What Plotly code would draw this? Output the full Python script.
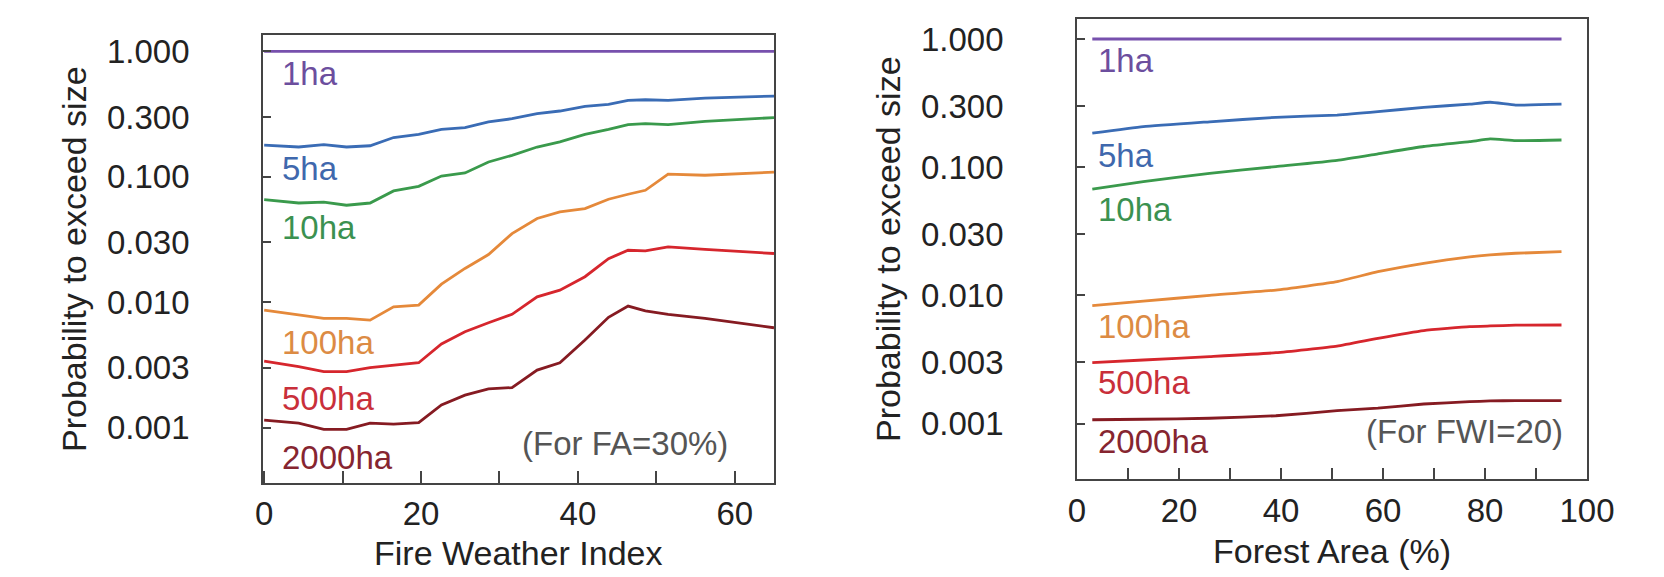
import plotly.graph_objects as go

# ---------------- data ----------------
size_labels = ["1ha", "5ha", "10ha", "100ha", "500ha", "2000ha"]

fwi = [0, 4.4, 7.6, 10.5, 13.5, 16.5, 19.7, 22.6, 25.6, 28.6, 31.6, 34.8,
       37.7, 40.9, 43.9, 46.4, 48.6, 51.5, 56.2, 65]
fwi_1ha = [1.0, 1.0, 1.0, 1.0, 1.0, 1.0, 1.0, 1.0, 1.0, 1.0, 1.0, 1.0,
           1.0, 1.0, 1.0, 1.0, 1.0, 1.0, 1.0, 1.0]
fwi_5ha = [0.179, 0.173, 0.181, 0.173, 0.177, 0.206, 0.218, 0.239, 0.247, 0.274,
           0.291, 0.319, 0.335, 0.365, 0.379, 0.407, 0.412, 0.407, 0.425, 0.441]
fwi_10ha = [0.0659, 0.0619, 0.0628, 0.0594, 0.0619, 0.0773, 0.0841, 0.1016, 0.1074,
            0.1315, 0.1486, 0.173, 0.190, 0.218, 0.239, 0.261, 0.266, 0.261, 0.277, 0.297]
fwi_100ha = [0.00867, 0.00791, 0.00744, 0.00744, 0.00721, 0.00921, 0.00951, 0.01396,
             0.01862, 0.02404, 0.0353, 0.0466, 0.0526, 0.0559, 0.0663, 0.0727, 0.0782,
             0.105, 0.103, 0.109]
fwi_500ha = [0.00340, 0.00307, 0.00280, 0.00280, 0.00301, 0.00316, 0.00330, 0.00465,
             0.00582, 0.00687, 0.00802, 0.01106, 0.0125, 0.0160, 0.0223, 0.0260, 0.0257,
             0.0277, 0.0264, 0.0245]
fwi_2000ha = [0.00115, 0.00109, 0.00097, 0.00097, 0.00109, 0.00107, 0.00110, 0.00152,
              0.00182, 0.00204, 0.00209, 0.00288, 0.00330, 0.00500, 0.00759, 0.00933,
              0.00855, 0.00802, 0.00744, 0.00627]

fa = [3, 13, 26, 39, 51, 59, 68, 77, 81, 86, 95]
fa_1ha = [1.0, 1.0, 1.0, 1.0, 1.0, 1.0, 1.0, 1.0, 1.0, 1.0, 1.0]
fa_5ha = [0.184, 0.207, 0.226, 0.245, 0.255, 0.271, 0.293, 0.310, 0.321, 0.305, 0.310]
fa_10ha = [0.0673, 0.0771, 0.0895, 0.101, 0.113, 0.127, 0.145, 0.158, 0.166, 0.161, 0.163]
fa_100ha = [0.0083, 0.0090, 0.0100, 0.0110, 0.0128, 0.0153, 0.0178, 0.0200, 0.0207, 0.0213, 0.0219]
fa_500ha = [0.00299, 0.00313, 0.00333, 0.00357, 0.00402, 0.00462, 0.00531, 0.00570,
            0.00577, 0.00585, 0.00587]
fa_2000ha = [0.00107, 0.00108, 0.00110, 0.00115, 0.00126, 0.00132, 0.00142, 0.00148,
             0.00150, 0.00151, 0.00151]

y_tickvals = [1.0, 0.3, 0.1, 0.03, 0.01, 0.003, 0.001]
y_ticktext = ["1.000", "0.300", "0.100", "0.030", "0.010", "0.003", "0.001"]
fwi_tickvals = [0, 10, 20, 30, 40, 50, 60]
fwi_ticktext = ["0", "", "20", "", "40", "", "60"]
fa_tickvals = [0, 10, 20, 30, 40, 50, 60, 70, 80, 90, 100]
fa_ticktext = ["0", "", "20", "", "40", "", "60", "", "80", "", "100"]

# ---------------- style ----------------
line_colors = ["#7750ad", "#3a6cb5", "#3a9a4c", "#e5893a", "#d6262d", "#861b22"]
text_colors = ["#6c4e9e", "#3f68ad", "#3b9150", "#dc8b44", "#c92f3a", "#862530"]
FONT = "Liberation Sans, Arial, Helvetica, sans-serif"

left_series = [fwi_1ha, fwi_5ha, fwi_10ha, fwi_100ha, fwi_500ha, fwi_2000ha]
right_series = [fa_1ha, fa_5ha, fa_10ha, fa_100ha, fa_500ha, fa_2000ha]

# label positions (log10 y, x in data units)
left_label_x = 2.0
left_label_logy = [-0.175, -0.932, -1.401, -2.317, -2.763, -3.240]
right_label_x = 3.8
right_label_logy = [-0.164, -0.905, -1.334, -2.244, -2.683, -3.141]

fig = go.Figure()

for i, ys in enumerate(left_series):
    fig.add_trace(go.Scatter(x=fwi, y=ys, mode="lines", xaxis="x", yaxis="y",
                             line=dict(color=line_colors[i], width=2.8),
                             showlegend=False, hoverinfo="skip"))
for i, ys in enumerate(right_series):
    fig.add_trace(go.Scatter(x=fa, y=ys, mode="lines", xaxis="x2", yaxis="y2",
                             line=dict(color=line_colors[i], width=2.8, shape="spline",
                                       smoothing=0.4),
                             showlegend=False, hoverinfo="skip"))

W, H = 1664, 577
L_dom = [263 / W, 774 / W]
R_dom = [1077 / W, 1587 / W]
L_ydom = [(H - 482.7) / H, (H - 34.5) / H]
R_ydom = [(H - 479.3) / H, (H - 19) / H]

axis_common = dict(showline=True, mirror=True, linecolor="#444", linewidth=1.6,
                   ticks="inside", tickcolor="#444", tickwidth=1.5,
                   showgrid=False, zeroline=False, automargin=False,
                   tickfont=dict(family=FONT, size=33, color="#222"))

fig.update_layout(
    width=W, height=H,
    margin=dict(l=0, r=0, t=0, b=0, pad=0, autoexpand=False),
    paper_bgcolor="white", plot_bgcolor="white",
    xaxis=dict(domain=L_dom, range=[-0.15, 65], anchor="y",
               tickvals=fwi_tickvals, ticktext=fwi_ticktext, ticklen=12,
               ticklabelstandoff=1, **axis_common),
    yaxis=dict(domain=L_ydom, type="log", range=[-3.438, 0.135], anchor="x",
               tickvals=y_tickvals, ticktext=y_ticktext, ticklen=8,
               ticklabelstandoff=65, **axis_common),
    xaxis2=dict(domain=R_dom, range=[0, 100], anchor="y2",
                tickvals=fa_tickvals, ticktext=fa_ticktext, ticklen=12,
                ticklabelstandoff=1, **axis_common),
    yaxis2=dict(domain=R_ydom, type="log", range=[-3.435, 0.156], anchor="x2",
                tickvals=y_tickvals, ticktext=y_ticktext, ticklen=8,
                ticklabelstandoff=65, **axis_common),
)

ann = []
for i, lab in enumerate(size_labels):
    ann.append(dict(x=left_label_x, y=left_label_logy[i], xref="x", yref="y",
                    text=lab, showarrow=False, xanchor="left", yanchor="middle",
                    font=dict(family=FONT, size=33, color=text_colors[i])))
    ann.append(dict(x=right_label_x, y=right_label_logy[i], xref="x2", yref="y2",
                    text=lab, showarrow=False, xanchor="left", yanchor="middle",
                    font=dict(family=FONT, size=33, color=text_colors[i])))

# notes
ann.append(dict(x=730 / W, y=(H - 443) / H, xref="paper", yref="paper",
                text="(For FA=30%)", showarrow=False, xanchor="right", yanchor="middle",
                font=dict(family=FONT, size=33, color="#555")))
ann.append(dict(x=1565 / W, y=(H - 431.7) / H, xref="paper", yref="paper",
                text="(For FWI=20)", showarrow=False, xanchor="right", yanchor="middle",
                font=dict(family=FONT, size=33, color="#555")))

# axis titles
ann.append(dict(x=(263 + 774) / 2 / W, y=(H - 553) / H, xref="paper", yref="paper",
                text="Fire Weather Index", showarrow=False, xanchor="center", yanchor="middle",
                font=dict(family=FONT, size=34, color="#222")))
ann.append(dict(x=(1077 + 1587) / 2 / W, y=(H - 551) / H, xref="paper", yref="paper",
                text="Forest Area (%)", showarrow=False, xanchor="center", yanchor="middle",
                font=dict(family=FONT, size=34, color="#222")))
ann.append(dict(x=74 / W, y=(H - 259) / H, xref="paper", yref="paper",
                text="Probability to exceed size", showarrow=False, textangle=-90,
                xanchor="center", yanchor="middle",
                font=dict(family=FONT, size=34, color="#222")))
ann.append(dict(x=888 / W, y=(H - 249) / H, xref="paper", yref="paper",
                text="Probability to exceed size", showarrow=False, textangle=-90,
                xanchor="center", yanchor="middle",
                font=dict(family=FONT, size=34, color="#222")))

fig.update_layout(annotations=ann)
fig.write_html("out.html",
               config={"displayModeBar": False},
               post_script="document.body.style.margin='0';document.body.style.overflow='hidden';")
